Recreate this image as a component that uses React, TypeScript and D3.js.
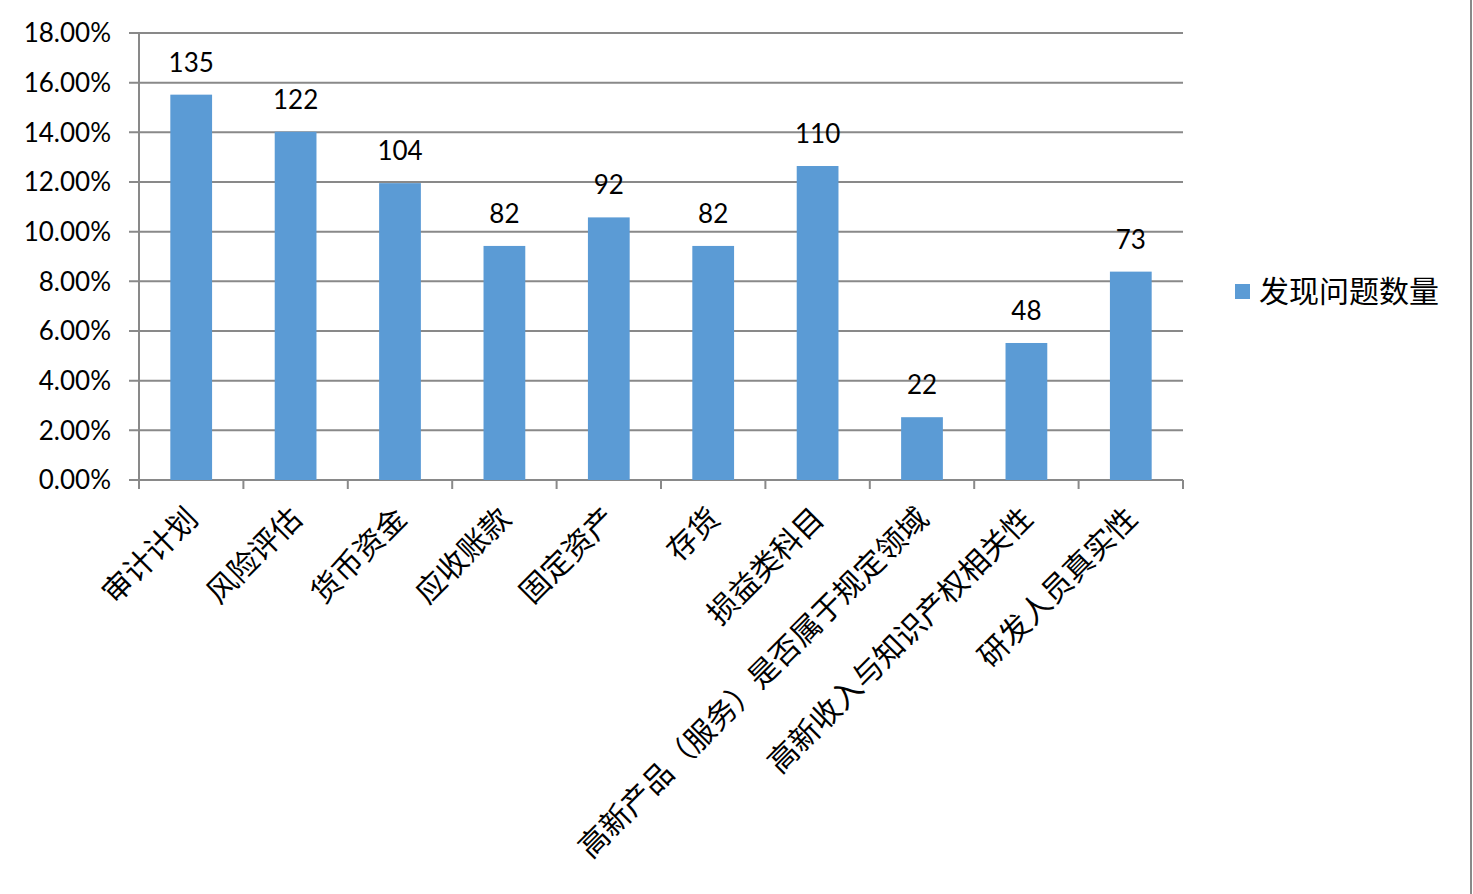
import React from "react";
import * as d3 from "d3";

const categories = [
  "审计计划",
  "风险评估",
  "货币资金",
  "应收账款",
  "固定资产",
  "存货",
  "损益类科目",
  "高新产品（服务）是否属于规定领域",
  "高新收入与知识产权相关性",
  "研发人员真实性",
];
const counts = [135, 122, 104, 82, 92, 82, 110, 22, 48, 73];
const yTicks = [0, 0.02, 0.04, 0.06, 0.08, 0.1, 0.12, 0.14, 0.16, 0.18];
const seriesName = "发现问题数量";

const W = 1473;
const H = 894;
const left = 139;
const right = 1183;
const top = 33;
const bottom = 480;
const gridColor = "#898989";
const barColor = "#5B9BD5";
const latin = "Lato, 'Open Sans', sans-serif";
const cjk = "'Noto Sans CJK SC', sans-serif";

export default function App() {
  const total = d3.sum(counts);
  const x = d3.scaleBand<string>().domain(categories).range([left, right]).paddingInner(0.6).paddingOuter(0.3);
  const band = d3.scaleBand<string>().domain(categories).range([left, right]);
  const y = d3.scaleLinear().domain([0, 0.18]).range([bottom, top]);
  const fmt = (v: number) => (v * 100).toFixed(2) + "%";
  const boundaries = d3.range(categories.length + 1).map((i) => left + i * band.step());

  return (
    <svg width={W} height={H} style={{ position: "absolute", left: 0, top: 0, background: "#fff" }}>
      {yTicks.map((t) => (
        <g key={t}>
          <line x1={left - 10} x2={right} y1={y(t)} y2={y(t)} stroke={gridColor} strokeWidth={2} />
          <text x={111} y={y(t)} dy="0.36em" textAnchor="end" fontFamily={latin} fontSize={26} fill="#000">
            {fmt(t)}
          </text>
        </g>
      ))}
      <line x1={left} x2={left} y1={top} y2={bottom} stroke={gridColor} strokeWidth={2} />
      {boundaries.map((bx, i) => (
        <line key={i} x1={bx} x2={bx} y1={bottom} y2={bottom + 9} stroke={gridColor} strokeWidth={2} />
      ))}
      {categories.map((c, i) => {
        const v = counts[i] / total;
        const bx = x(c)!;
        const cx = bx + x.bandwidth() / 2;
        return (
          <g key={c}>
            <rect x={bx} y={y(v)} width={x.bandwidth()} height={bottom - y(v)} fill={barColor} />
            <text x={cx} y={y(v) - 23} textAnchor="middle" fontFamily={latin} fontSize={26} fill="#000">
              {counts[i]}
            </text>
            <text
              transform={`translate(${cx + 1},${bottom + 33}) rotate(-45)`}
              textAnchor="end"
              dy="0.35em"
              fontFamily={cjk}
              fontSize={30}
              fill="#000"
            >
              {c}
            </text>
          </g>
        );
      })}
      <rect x={1235} y={284} width={15} height={15} fill={barColor} />
      <text x={1259} y={291.5} dy="0.36em" fontFamily={cjk} fontSize={30} fill="#000">
        {seriesName}
      </text>
      <line x1={1471} x2={1471} y1={0} y2={H} stroke={gridColor} strokeWidth={2} />
    </svg>
  );
}
